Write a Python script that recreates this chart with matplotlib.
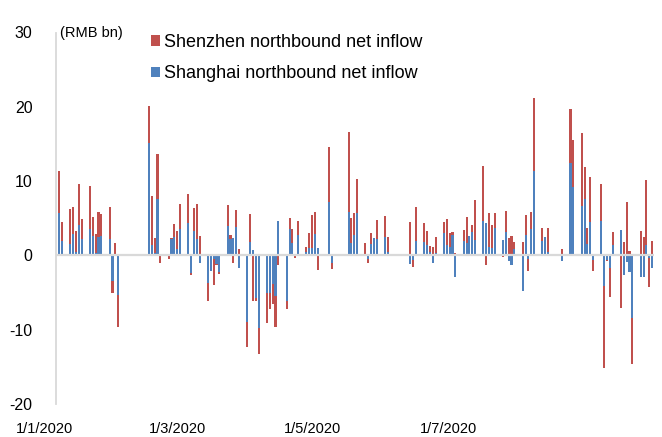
import matplotlib
matplotlib.use("Agg")
import matplotlib.pyplot as plt
import matplotlib.transforms as mtransforms
from matplotlib.patches import Patch
import numpy as np
import pandas as pd

# Daily northbound net inflow, 2020 (RMB bn)
dates = [
    "01-02", "01-03", "01-06", "01-07", "01-08", "01-09", "01-10",
    "01-13", "01-14", "01-15", "01-16", "01-17", "01-20", "01-21", "01-22", "01-23",
    "02-03", "02-04", "02-05", "02-06", "02-07",
    "02-10", "02-11", "02-12", "02-13", "02-14",
    "02-17", "02-18", "02-19", "02-20", "02-21",
    "02-24", "02-25", "02-26", "02-27", "02-28",
    "03-02", "03-03", "03-04", "03-05", "03-06",
    "03-09", "03-10", "03-11", "03-12", "03-13",
    "03-16", "03-17", "03-18", "03-19", "03-20",
    "03-23", "03-24", "03-25", "03-26", "03-27",
    "03-30", "03-31", "04-01", "04-02", "04-03",
    "04-07", "04-08",
    "04-14", "04-15", "04-16", "04-17",
    "04-20", "04-21", "04-22", "04-23", "04-24",
    "04-27", "04-28",
    "05-06", "05-07", "05-08",
    "05-11", "05-12", "05-13", "05-14", "05-15",
    "05-18", "05-19", "05-20", "05-21", "05-22",
    "05-25", "05-26", "05-27", "05-28", "05-29",
    "06-01", "06-02", "06-03", "06-04", "06-05",
    "06-08", "06-09", "06-10", "06-11", "06-12",
    "06-15", "06-16", "06-17", "06-18", "06-19",
    "06-22", "06-23", "06-24",
    "06-29",
    "07-02", "07-03",
    "07-06", "07-07", "07-08", "07-09", "07-10",
    "07-13", "07-14", "07-15", "07-16", "07-17",
    "07-20", "07-21", "07-22", "07-23", "07-24",
    "07-27", "07-28", "07-29", "07-30", "07-31",
]

shanghai = [
    5.7, 1.95, 1.55, 2.9, 0.4, 4.05, 2.15,
    3.5, 2.65, 0.3, 2.45, 2.65, 2.15, -3.45, 0.2, -5.3,
    15.1, 1.35, 0.3, 7.55, 0.1,
    0.1, 2.15, 2.45, 0.9, 3.5,
    4.35, -2.4, 3.3, 2.15, -1.0,
    -3.75, -2.05, -0.5, -1.2, -2.3,
    4.0, 2.25, 2.3, 3.85, -1.7,
    -8.9, 1.8, 0.7, -5.75, -9.8,
    -5.0, -5.0, -3.85, -5.45, 4.65,
    -6.1, 3.6, 1.65, 0.0, 2.75,
    0.5, 1.0, 0.95, 2.9, 1.0,
    7.2, -1.05,
    5.85, 1.65, 2.75, 5.7,
    0.0, -0.5, 1.55, 2.4, 2.15,
    2.5, 0.5,
    -1.2, -0.6, 2.0,
    1.8, 1.35, 0.5, -1.05, 0.35,
    3.0, 1.45, 1.15, 2.7, -2.85,
    1.9, 1.65, 2.6, 3.2, 2.05,
    4.65, 4.35, 1.1, 0.95, 3.75,
    2.1, 3.15, -0.7, -1.35, 0.85,
    -4.75, 2.75, -0.45, 3.5, 11.35,
    2.0, 2.5, 0.5,
    -0.7,
    12.4, 9.2,
    6.7, 7.6, 1.6, 4.55, -0.6,
    4.65, -4.1, -0.6, -1.65, 1.4,
    3.45, -2.7, -0.95, -2.2, -8.45,
    -2.95, -2.95, 1.4, -0.3, -1.7,
]

shenzhen = [
    5.7, 2.5, 4.7, 3.65, 2.9, 5.55, 2.75,
    5.85, 2.5, 2.6, 3.4, 2.95, 4.4, -1.55, 1.5, -4.3,
    5.0, 6.6, 2.05, 6.1, -1.0,
    -0.5, 0.2, 1.8, 2.4, 3.45,
    3.9, -0.3, 3.1, 4.75, 2.6,
    -2.35, 0.0, -3.55, -0.1, -0.2,
    2.8, 0.5, -1.0, 2.3, 0.8,
    -3.45, 3.8, -6.2, -0.4, -3.45,
    -4.05, -2.25, -2.7, -4.25, -1.35,
    -1.15, 1.5, 1.9, -0.3, 1.9,
    0.65, 2.0, 4.5, 2.95, -1.95,
    7.35, -0.75,
    10.75, 3.45, 2.95, 4.55,
    1.7, -0.55, 1.5, 0.0, 2.6,
    2.8, 2.0,
    4.5, -0.9, 4.55,
    2.55, 1.95, 0.8, 1.15, 2.15,
    1.5, 3.45, 1.9, 0.45, 0.35,
    1.5, 3.55, 0.0, 0.9, 5.4,
    7.4, -1.3, 4.6, 3.15, 2.0,
    -0.2, 2.85, 2.35, 2.65, 1.0,
    1.8, 2.7, -1.6, 2.35, 9.8,
    1.7, 0.0, 3.2,
    0.85,
    7.3, 6.35,
    9.75, 4.25, 2.1, 5.95, -1.45,
    4.95, -11.1, -0.2, -3.9, 1.75,
    -7.1, 1.8, 7.2, 0.6, -6.2,
    3.25, 2.5, 8.75, -4.0, 1.95,
]

y_ticks = [-20, -10, 0, 10, 20, 30]
x_tick_labels = ["1/1/2020", "1/3/2020", "1/5/2020", "1/7/2020"]
x_tick_days = [-4.1, 43.2, 91.3, 139.7]   # where each date label is centred (day of year)
series_names = ["Shenzhen northbound net inflow", "Shanghai northbound net inflow"]

plt.rcParams["font.family"] = ["Liberation Sans", "DejaVu Sans"]
plt.rcParams["axes.unicode_minus"] = False

RED = "#C0504D"
BLUE = "#4F81BD"
GREY = "#D9D9D9"

start = pd.Timestamp("2020-01-01")
x = np.array([(pd.Timestamp(f"2020-{d}") - start).days for d in dates], dtype=float)
sh = np.array(shanghai, dtype=float)
sz = np.array(shenzhen, dtype=float)
# stacked: positives pile upward, negatives pile downward
sz_bottom = np.where(sz >= 0, np.maximum(sh, 0), np.minimum(sh, 0))

W, H, DPI = 662, 437, 100
fig = plt.figure(figsize=(W / DPI, H / DPI), dpi=DPI)
ax_left, ax_right, ax_top, ax_bottom = 55.5, 653.7, 32.5, 404.0
ax = fig.add_axes([ax_left / W, 1 - ax_bottom / H,
                   (ax_right - ax_left) / W, (ax_bottom - ax_top) / H])

bar_w = 0.75
ax.bar(x, sh, width=bar_w, color=BLUE, linewidth=0, zorder=2)
ax.bar(x, sz, bottom=sz_bottom, width=bar_w, color=RED, linewidth=0, zorder=2)

xmin, xmax = -0.3, 212.6
ax.set_xlim(xmin, xmax)
ax.set_ylim(-20, 30)

for side in ("top", "right", "bottom"):
    ax.spines[side].set_visible(False)
ax.spines["left"].set_color(GREY)
ax.spines["left"].set_linewidth(1.3)
ax.axhline(0, color=GREY, linewidth=1.6, zorder=3)

ax.set_yticks(y_ticks)
ax.set_yticklabels([str(v) for v in y_ticks])
ax.tick_params(axis="y", length=0, pad=16.5, labelsize=11.5, labelcolor="black")

# date labels sit left of the first bar; anchor the ticks inside the axis and slide the text back
shift_days = 6.0
ax.set_xticks(np.array(x_tick_days) + shift_days)
ax.set_xticklabels(x_tick_labels)
ax.tick_params(axis="x", length=0, pad=13, labelsize=10.5, labelcolor="black")
px_per_day = (ax_right - ax_left) / (xmax - xmin)
offset = mtransforms.ScaledTranslation(-shift_days * px_per_day / DPI, 0, fig.dpi_scale_trans)
for lab in ax.get_xticklabels():
    lab.set_transform(lab.get_transform() + offset)

fig.text(60 / W, 1 - 33 / H, "(RMB bn)", ha="left", va="center", fontsize=10.5)

handles = [Patch(facecolor=RED, edgecolor="none"), Patch(facecolor=BLUE, edgecolor="none")]
ax.legend(handles, series_names, loc="upper left",
          bbox_to_anchor=(151 / W, 1 - 34 / H), bbox_transform=fig.transFigure,
          frameon=False, fontsize=13, handlelength=0.5, handleheight=0.5,
          handletextpad=0.2, labelspacing=0.78, borderpad=0, borderaxespad=0)

fig.savefig("out.png", dpi=DPI)
